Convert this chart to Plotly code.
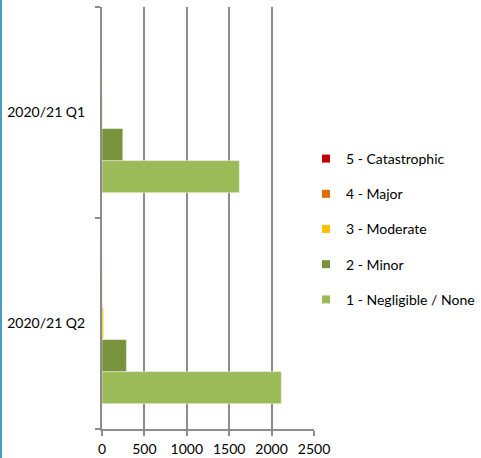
import plotly.graph_objects as go

# Quarterly incident counts by severity
quarters = ["2020/21 Q1", "2020/21 Q2"]
severity_labels = ["1 - Negligible / None", "2 - Minor", "3 - Moderate", "4 - Major", "5 - Catastrophic"]
negligible = [1620, 2115]
minor = [245, 288]
moderate = [4, 18]
major = [1, 2]
catastrophic = [0, 1]
severity_colors = ["#9BBB59", "#77933C", "#FFC000", "#E36C09", "#C00000"]
x_ticks = [0, 500, 1000, 1500, 2000, 2500]

series = [negligible, minor, moderate, major, catastrophic]

W, H = 481, 458
ML, MR, MT, MB = 102, 167, 7, 29
FONT = "Lato"
GRID = "#8c8c8c"

fig = go.Figure()

# bars: first series sits lowest within each quarter band
for name, vals, col in zip(severity_labels, series, severity_colors):
    fig.add_trace(go.Bar(
        y=quarters, x=vals, name=name, orientation="h",
        marker=dict(color=col, line=dict(color="rgba(255,255,255,0.45)", width=1)),
        showlegend=False,
    ))

# legend entries with small square swatches, most severe at the top
for i in reversed(range(len(severity_labels))):
    fig.add_trace(go.Scatter(
        x=[None], y=[None], mode="markers", name=severity_labels[i],
        marker=dict(symbol="square", size=8, color=severity_colors[i]),
        legendgroup=str(i), showlegend=True,
    ))

pw = W - ML - MR
ph = H - MT - MB

fig.update_layout(
    width=W, height=H,
    margin=dict(l=ML, r=MR, t=MT, b=MB, pad=0, autoexpand=False),
    paper_bgcolor="white", plot_bgcolor="white",
    barmode="group", bargap=0.24, bargroupgap=0,
    font=dict(family=FONT, size=14, color="#000000"),
    legend=dict(
        xref="container", yref="container",
        x=306 / W, xanchor="left",
        y=1 - 143 / H, yanchor="top",
        traceorder="grouped", tracegroupgap=14,
        font=dict(family=FONT, size=14, color="#000000"),
        itemwidth=30, bgcolor="rgba(0,0,0,0)",
    ),
    xaxis=dict(
        range=[0, 2500], tickvals=x_ticks, ticktext=[str(v) for v in x_ticks],
        showgrid=True, gridcolor=GRID, gridwidth=2,
        showline=True, linecolor=GRID, linewidth=2,
        ticks="outside", ticklen=5, tickcolor=GRID, tickwidth=2,
        ticklabelstandoff=1,
        zeroline=False, fixedrange=True,
    ),
    yaxis=dict(
        type="category", categoryorder="array", categoryarray=quarters[::-1],
        showgrid=False, showline=True, linecolor=GRID, linewidth=2,
        ticks="outside", ticklen=5, tickcolor=GRID, tickwidth=2,
        tickson="boundaries", ticklabelstandoff=12,
        zeroline=False, fixedrange=True,
    ),
    shapes=[dict(
        type="line", xref="paper", yref="paper",
        x0=(1 - ML) / pw, x1=(1 - ML) / pw,
        y0=-MB / ph - 0.01, y1=1 + MT / ph + 0.01,
        line=dict(color="#4A9DBE", width=2),
    )],
)

fig.write_html("out.html")
